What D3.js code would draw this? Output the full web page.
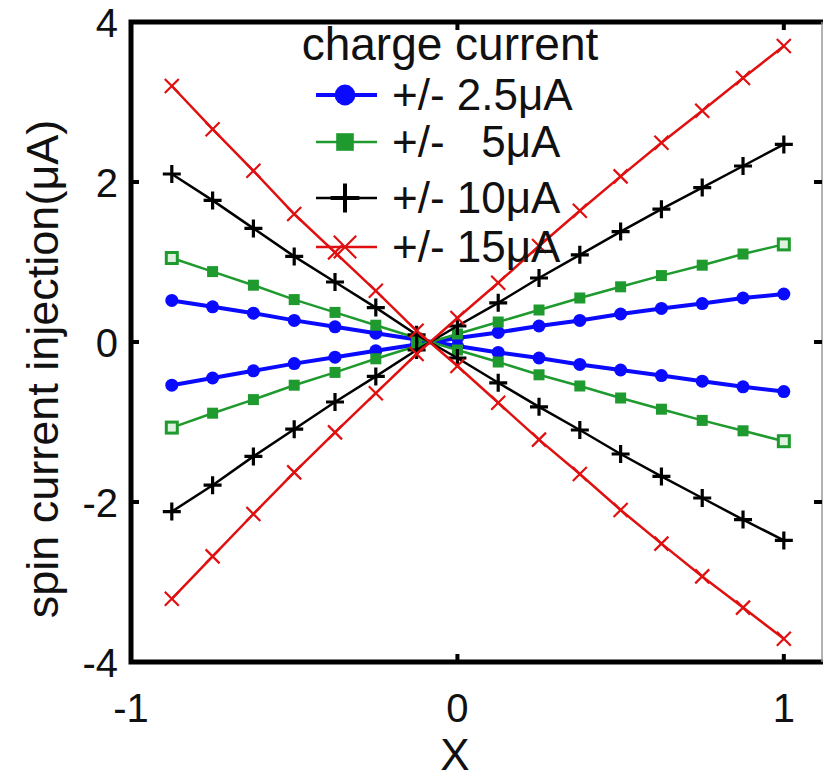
<!DOCTYPE html>
<html>
<head>
<meta charset="utf-8">
<script src="https://cdn.jsdelivr.net/npm/d3@7"></script>
<style>
body { margin: 0; background: #fff; }
svg text { font-family: "Liberation Sans", Arial, sans-serif; fill: #111; }
</style>
</head>
<body>
<svg id="chart" width="823" height="780"></svg>
<script>
var xVals = [-0.875, -0.75, -0.625, -0.5, -0.375, -0.25, -0.125, 0, 0.125, 0.25, 0.375, 0.5, 0.625, 0.75, 0.875, 1];

var blueUp   = [-0.54, -0.45, -0.36, -0.27, -0.19, -0.11, -0.03, 0.05, 0.12, 0.20, 0.27, 0.35, 0.42, 0.48, 0.55, 0.60];
var blueDown = [0.52, 0.44, 0.36, 0.27, 0.19, 0.11, 0.03, -0.05, -0.13, -0.20, -0.28, -0.35, -0.42, -0.49, -0.56, -0.62];
var greenUp   = [-1.07, -0.89, -0.72, -0.54, -0.38, -0.21, -0.05, 0.10, 0.25, 0.40, 0.55, 0.69, 0.83, 0.96, 1.10, 1.22];
var greenDown = [1.05, 0.88, 0.71, 0.53, 0.37, 0.21, 0.05, -0.10, -0.25, -0.41, -0.55, -0.70, -0.84, -0.98, -1.11, -1.24];
var blackUp   = [-2.12, -1.79, -1.43, -1.09, -0.75, -0.43, -0.10, 0.20, 0.49, 0.80, 1.09, 1.38, 1.66, 1.93, 2.20, 2.47];
var blackDown = [2.10, 1.77, 1.42, 1.07, 0.75, 0.43, 0.09, -0.20, -0.51, -0.81, -1.10, -1.40, -1.68, -1.95, -2.22, -2.48];
var redUp   = [-3.21, -2.68, -2.15, -1.63, -1.13, -0.64, -0.15, 0.30, 0.74, 1.20, 1.64, 2.07, 2.49, 2.89, 3.30, 3.70];
var redDown = [3.20, 2.66, 2.14, 1.60, 1.12, 0.64, 0.14, -0.30, -0.76, -1.22, -1.65, -2.10, -2.52, -2.93, -3.32, -3.71];

var legendTitle = "charge current";
var legendLabels = ["+/- 2.5\u03bcA", "+/-   5\u03bcA", "+/- 10\u03bcA", "+/- 15\u03bcA"];
var xTicks = [-1, 0, 1];
var yTicks = [-4, -2, 0, 2, 4];

var kinds = [
	{color: "#0a0aff", marker: "circle", width: 4, up: blueUp, down: blueDown},
	{color: "#1f9a2e", marker: "square", width: 2.5, up: greenUp, down: greenDown},
	{color: "#000000", marker: "plus", width: 2.5, up: blackUp, down: blackDown},
	{color: "#e01010", marker: "cross", width: 2.5, up: redUp, down: redDown}
];

var svg = d3.select("#chart");

var x = d3.scaleLinear().domain([-1, 1.12]).range([131, 823]);
var y = d3.scaleLinear().domain([-4, 4]).range([662, 22]);

var line = d3.line()
	.x(function(d){return x(d[0]);})
	.y(function(d){return y(d[1]);});

function drawMarker(g, type, color, cx, cy, big, hollow){
	var s = big ? 1.6 : 1;
	if(type=="circle"){
		g.append("circle").attr("cx",cx).attr("cy",cy).attr("r",6.5*s).attr("fill",color);
	} else if(type=="square"){
		var h = 5.5*s;
		g.append("rect").attr("x",cx-h).attr("y",cy-h).attr("width",2*h).attr("height",2*h)
			.attr("fill",hollow ? "#dff2df" : color).attr("stroke",color).attr("stroke-width",hollow ? 3 : 0);
	} else if(type=="plus"){
		var p = 9*s;
		g.append("path").attr("d","M"+(cx-p)+","+cy+"H"+(cx+p)+"M"+cx+","+(cy-p)+"V"+(cy+p))
			.attr("stroke",color).attr("stroke-width",big ? 4 : 3.2).attr("fill","none");
	} else {
		var c = 7*s;
		g.append("path").attr("d","M"+(cx-c)+","+(cy-c)+"L"+(cx+c)+","+(cy+c)+"M"+(cx-c)+","+(cy+c)+"L"+(cx+c)+","+(cy-c))
			.attr("stroke",color).attr("stroke-width",2.2).attr("fill","none");
	}
}

var plot = svg.append("g");

kinds.forEach(function(k){
	[k.up, k.down].forEach(function(vals){
		var pts = xVals.map(function(v,i){return [v, vals[i]];});
		plot.append("path")
			.datum(pts)
			.attr("d",line)
			.attr("fill","none")
			.attr("stroke",k.color)
			.attr("stroke-width",k.width);
		var mg = plot.append("g");
		pts.forEach(function(p,i){
			var hollow = (i==0 || i==pts.length-1);
			drawMarker(mg, k.marker, k.color, x(p[0]), y(p[1]), false, hollow);
		});
	});
});

// frame
svg.append("path")
	.attr("d","M"+x(1.12)+","+y(4)+"H"+x(-1)+"V"+y(-4)+"H"+x(1.12))
	.attr("fill","none").attr("stroke","#000").attr("stroke-width",5);
svg.append("line")
	.attr("x1",822).attr("x2",822).attr("y1",y(4)).attr("y2",y(-4))
	.attr("stroke","#999").attr("stroke-width",1.5);

// ticks
xTicks.forEach(function(t){
	if(t==-1) return;
	svg.append("line").attr("x1",x(t)).attr("x2",x(t)).attr("y1",y(-4)).attr("y2",y(-4)-8)
		.attr("stroke","#000").attr("stroke-width",4);
	svg.append("line").attr("x1",x(t)).attr("x2",x(t)).attr("y1",y(4)).attr("y2",y(4)+8)
		.attr("stroke","#000").attr("stroke-width",4);
});
yTicks.forEach(function(t){
	if(t==-4 || t==4) return;
	svg.append("line").attr("x1",x(-1)).attr("x2",x(-1)+8).attr("y1",y(t)).attr("y2",y(t))
		.attr("stroke","#000").attr("stroke-width",4);
	svg.append("line").attr("x1",822).attr("x2",814).attr("y1",y(t)).attr("y2",y(t))
		.attr("stroke","#000").attr("stroke-width",4);
});

svg.selectAll(".xlab")
	.data(xTicks)
	.enter()
	.append("text")
	.attr("class","xlab")
	.attr("x",function(d){return x(d);})
	.attr("y",722)
	.attr("text-anchor","middle")
	.style("font-size","40px")
	.text(function(d){return d;});

svg.selectAll(".ylab")
	.data(yTicks)
	.enter()
	.append("text")
	.attr("class","ylab")
	.attr("x",118)
	.attr("y",function(d){return y(d)+15;})
	.attr("text-anchor","end")
	.style("font-size","40px")
	.text(function(d){return d;});

svg.append("text")
	.attr("x",455)
	.attr("y",770)
	.attr("text-anchor","middle")
	.style("font-size","44px")
	.text("X");

svg.append("text")
	.attr("transform","translate(58,369) rotate(-90)")
	.attr("text-anchor","middle")
	.style("font-size","45px")
	.text("spin current injection(\u03bcA)");

// legend
var leg = svg.append("g");
leg.append("text")
	.attr("x",450)
	.attr("y",60)
	.attr("text-anchor","middle")
	.style("font-size","46px")
	.text(legendTitle);

var legY = [95, 142, 198, 247];
kinds.forEach(function(k,i){
	leg.append("line")
		.attr("x1",316).attr("x2",377).attr("y1",legY[i]).attr("y2",legY[i])
		.attr("stroke",k.color).attr("stroke-width",k.width);
	drawMarker(leg, k.marker, k.color, 345, legY[i], true, false);
	leg.append("text")
		.attr("x",392)
		.attr("y",legY[i]+15)
		.style("font-size","44px")
		.style("white-space","pre")
		.text(legendLabels[i]);
});
</script>
</body>
</html>
